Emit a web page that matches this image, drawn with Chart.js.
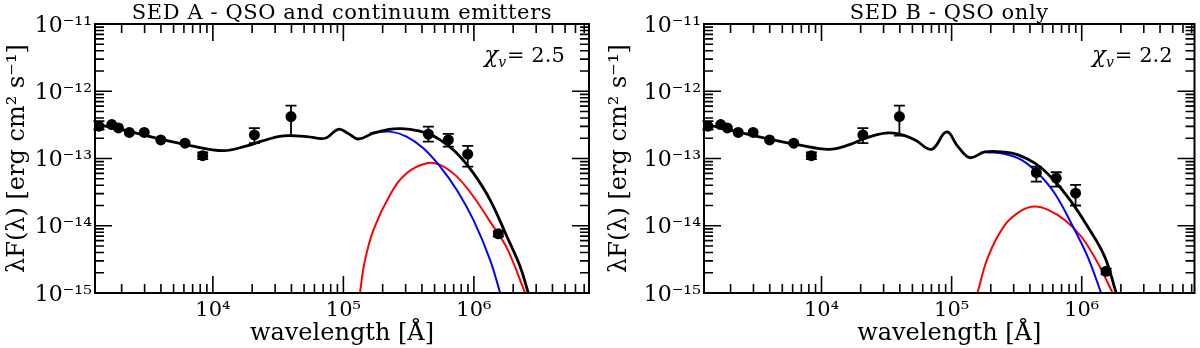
<!DOCTYPE html>
<html>
<head>
<meta charset="utf-8">
<script src="https://cdn.jsdelivr.net/npm/chart.js@4.4.0/dist/chart.umd.min.js"></script>
<style>
    html, body { margin: 0; padding: 0; background: #fff; }
    #wrap { display: flex; width: 1200px; height: 348px; }
    canvas { display: block; }
</style>
</head>
<body>
<div id="wrap">
    <canvas id="sedA" width="600" height="348"></canvas>
    <canvas id="sedB" width="600" height="348"></canvas>
</div>
<script>
// Photometry, wavelength in Angstrom, lambda F(lambda) in erg cm^-2 s^-1
const photLam = [1340, 1680, 1890, 2290, 2980, 3990, 6120, 8360, 2.08e4, 3.97e4];
const photF   = [3.02e-13, 3.19e-13, 2.85e-13, 2.44e-13, 2.44e-13, 1.89e-13, 1.69e-13, 1.10e-13, 2.24e-13, 4.20e-13];
const photLo  = [2.70e-13, null, null, null, null, null, null, 0.98e-13, 1.69e-13, 2.19e-13];
const photHi  = [3.60e-13, null, null, null, null, null, null, 1.23e-13, 2.82e-13, 6.11e-13];

// far-IR points differ between the two decompositions
const firLam = [4.48e5, 6.37e5, 8.97e5, 1.54e6];
const firFA  = [2.30e-13, 1.89e-13, 1.16e-13, 7.59e-15];
const firLoA = [1.78e-13, 1.50e-13, 7.59e-14, 6.9e-15];
const firHiA = [2.98e-13, 2.33e-13, 1.54e-13, 8.3e-15];
const firFB  = [6.18e-14, 5.09e-14, 3.05e-14, 2.10e-15];
const firLoB = [4.54e-14, 3.83e-14, 2.00e-14, 1.9e-15];
const firHiB = [7.59e-14, 6.25e-14, 4.06e-14, 2.3e-15];

// SED A model curves
const lamTotA = [1250, 2060, 3720, 6680, 1.20e4, 1.82e4, 2.44e4, 3.47e4, 5.24e4, 7.24e4, 9.14e4, 1.09e5, 1.30e5, 1.70e5, 2.42e5, 3.24e5, 4.36e5, 5.51e5, 7.40e5, 9.91e5, 1.33e6, 1.79e6, 2.26e6, 2.61e6];
const fTotA   = [3.27e-13, 2.66e-13, 2.00e-13, 1.56e-13, 1.31e-13, 1.54e-13, 1.85e-13, 2.17e-13, 2.12e-13, 2.00e-13, 2.72e-13, 2.36e-13, 1.95e-13, 2.38e-13, 2.75e-13, 2.72e-13, 2.38e-13, 1.89e-13, 1.20e-13, 6.05e-14, 2.43e-14, 6.92e-15, 2.48e-15, 1.0e-15];
const lamQsoA = [1.60e5, 2.28e5, 3.05e5, 4.10e5, 5.51e5, 7.40e5, 9.91e5, 1.33e6, 1.59e6];
const fQsoA   = [2.38e-13, 2.51e-13, 2.12e-13, 1.42e-13, 7.59e-14, 3.41e-14, 1.22e-14, 3.11e-15, 1.0e-15];
const lamDustA = [1.34e5, 1.45e5, 1.70e5, 2.28e5, 3.05e5, 4.36e5, 5.51e5, 7.40e5, 9.91e5, 1.33e6, 1.79e6, 2.47e6];
const fDustA   = [1.0e-15, 2.8e-15, 8.69e-15, 2.88e-14, 6.05e-14, 8.51e-14, 8.03e-14, 5.38e-14, 2.72e-14, 1.15e-14, 4.65e-15, 1.0e-15];

// SED B model curves
const lamTotB = [1250, 2060, 3720, 6680, 1.14e4, 1.62e4, 2.17e4, 3.08e4, 3.90e4, 5.24e4, 7.02e4, 9.14e4, 1.12e5, 1.38e5, 1.80e5, 2.57e5, 3.24e5, 4.36e5, 5.83e5, 8.30e5, 1.11e6, 1.50e6, 1.84e6];
const fTotB   = [3.27e-13, 2.60e-13, 2.00e-13, 1.59e-13, 1.37e-13, 1.59e-13, 2.00e-13, 2.38e-13, 2.32e-13, 1.89e-13, 1.37e-13, 2.48e-13, 1.50e-13, 1.03e-13, 1.25e-13, 1.24e-13, 1.13e-13, 8.51e-14, 5.27e-14, 2.29e-14, 9.73e-15, 3.48e-15, 1.0e-15];
const lamQsoB = [1.85e5, 2.57e5, 3.44e5, 4.61e5, 6.19e5, 8.30e5, 1.11e6, 1.41e6];
const fQsoB   = [1.24e-13, 1.17e-13, 9.53e-14, 6.04e-14, 3.05e-14, 1.09e-14, 3.48e-15, 1.0e-15];
const lamDustB = [1.58e5, 1.91e5, 2.57e5, 3.44e5, 4.36e5, 5.51e5, 7.40e5, 9.91e5, 1.33e6, 1.73e6];
const fDustB   = [1.0e-15, 3.48e-15, 1.03e-14, 1.68e-14, 1.93e-14, 1.72e-14, 1.22e-14, 6.92e-15, 2.78e-15, 1.0e-15];

// axes
const labelDecadesX = [4, 5, 6];
const tickDecadesX = [3, 4, 5, 6];
const decadesY = [-15, -14, -13, -12, -11];
const minorSteps = [2, 3, 4, 5, 6, 7, 8, 9];

const serif = "'DejaVu Serif', serif";
const SUP = { '-': '\u207B', '0': '\u2070', '1': '\u00B9', '2': '\u00B2', '3': '\u00B3', '4': '\u2074', '5': '\u2075', '6': '\u2076', '7': '\u2077', '8': '\u2078', '9': '\u2079' };

function decadeLabel(v) {
    const e = Math.round(Math.log10(v));
    return '10' + String(e).split('').map(c => SUP[c]).join('');
}

function pairs(xs, ys) {
    return xs.map((x, i) => ({ x: x, y: ys[i] }));
}

// frame, inward ticks on all four sides, error bars, titles and chi label
const sedDecor = {
    id: 'sedDecor',
    afterDatasetsDraw(chart, args, opts) {
        const { ctx, chartArea: a, scales: { x, y } } = chart;
        ctx.save();

        // error bars
        ctx.strokeStyle = '#000';
        ctx.lineWidth = 1.8;
        ctx.beginPath();
        opts.errLam.forEach((lam, i) => {
            const lo = opts.errLo[i], hi = opts.errHi[i];
            if (lo == null || hi == null) return;
            const px = x.getPixelForValue(lam);
            const p1 = y.getPixelForValue(lo), p2 = y.getPixelForValue(hi);
            ctx.moveTo(px, p1); ctx.lineTo(px, p2);
            ctx.moveTo(px - 5.5, p1); ctx.lineTo(px + 5.5, p1);
            ctx.moveTo(px - 5.5, p2); ctx.lineTo(px + 5.5, p2);
        });
        ctx.stroke();

        // ticks
        ctx.lineWidth = 1.6;
        ctx.beginPath();
        const tickX = (v, len) => {
            if (v <= x.min || v >= x.max) return;
            const px = x.getPixelForValue(v);
            ctx.moveTo(px, a.bottom); ctx.lineTo(px, a.bottom - len);
            ctx.moveTo(px, a.top); ctx.lineTo(px, a.top + len);
        };
        const tickY = (v, len) => {
            if (v <= y.min || v >= y.max) return;
            const py = y.getPixelForValue(v);
            ctx.moveTo(a.left, py); ctx.lineTo(a.left + len, py);
            ctx.moveTo(a.right, py); ctx.lineTo(a.right - len, py);
        };
        tickDecadesX.forEach(e => {
            const v = Number('1e' + e);
            tickX(v, 17);
            minorSteps.forEach(m => tickX(m * v, 9));
        });
        decadesY.forEach(e => {
            const v = Number('1e' + e);
            tickY(v, 17);
            minorSteps.forEach(m => tickY(m * v, 9));
        });
        ctx.stroke();

        // frame
        ctx.lineWidth = 2;
        ctx.strokeRect(a.left, a.top, a.right - a.left, a.bottom - a.top);

        ctx.fillStyle = '#000';
        ctx.textBaseline = 'alphabetic';
        ctx.textAlign = 'center';
        const midX = (a.left + a.right) / 2;
        const midY = (a.top + a.bottom) / 2;

        // panel title
        ctx.font = '21px ' + serif;
        ctx.letterSpacing = '0.6px';
        ctx.fillText(opts.title, midX, 19);
        ctx.letterSpacing = '0px';

        // axis titles
        ctx.font = '24px ' + serif;
        ctx.fillText('wavelength [Å]', midX, 340);
        ctx.save();
        ctx.translate(opts.yTitleX, midY);
        ctx.rotate(-Math.PI / 2);
        ctx.fillText('λF(λ) [erg cm² s⁻¹]', 0, 0);
        ctx.restore();

        // reduced chi-square
        let cx = x.getPixelForValue(opts.chiLam);
        const cy = y.getPixelForValue(opts.chiF);
        ctx.textAlign = 'left';
        ctx.font = 'italic 23px ' + serif;
        ctx.fillText('\u03C7', cx, cy);
        cx += ctx.measureText('\u03C7').width;
        ctx.font = 'italic 14px ' + serif;
        ctx.fillText('v', cx, cy + 5);
        cx += ctx.measureText('v').width + 1;
        ctx.font = '21px ' + serif;
        ctx.fillText('= ' + opts.chi, cx, cy);

        ctx.restore();
    }
};

function makeSed(id, cfg) {
    const curve = (label, xs, ys, color, width, order) => ({
        label: label,
        data: pairs(xs, ys),
        borderColor: color,
        borderWidth: width,
        pointRadius: 0,
        tension: 0.4,
        order: order
    });
    return new Chart(document.getElementById(id), {
        type: 'line',
        data: {
            datasets: [
                {
                    label: 'photometry',
                    data: pairs(cfg.ptLam, cfg.ptF),
                    showLine: false,
                    pointRadius: 5.5,
                    pointBackgroundColor: '#000',
                    pointBorderWidth: 0,
                    order: 0
                },
                curve('total', cfg.totLam, cfg.totF, '#000', 2.8, 1),
                curve('QSO', cfg.qsoLam, cfg.qsoF, '#0000ff', 2, 2),
                curve('continuum', cfg.dustLam, cfg.dustF, '#ff0000', 2, 3)
            ]
        },
        options: {
            responsive: false,
            animation: false,
            events: [],
            layout: { padding: { top: 24, right: cfg.padRight, left: 0, bottom: 0 } },
            plugins: {
                legend: { display: false },
                tooltip: { enabled: false },
                sedDecor: cfg.decor
            },
            scales: {
                x: {
                    type: 'logarithmic',
                    min: cfg.xMin,
                    max: cfg.xMax,
                    afterFit: s => { s.height = 55; },
                    afterBuildTicks: s => { s.ticks = labelDecadesX.map(e => ({ value: Number('1e' + e) })); },
                    grid: { display: false, drawTicks: false },
                    border: { display: false },
                    ticks: {
                        callback: v => decadeLabel(v),
                        color: '#000',
                        font: { family: serif, size: 21 },
                        padding: 5,
                        autoSkip: false,
                        maxRotation: 0
                    }
                },
                y: {
                    type: 'logarithmic',
                    min: 1e-15,
                    max: 1e-11,
                    afterFit: s => { s.width = cfg.yWidth; },
                    afterBuildTicks: s => { s.ticks = decadesY.map(e => ({ value: Number('1e' + e) })); },
                    grid: { display: false, drawTicks: false },
                    border: { display: false },
                    ticks: {
                        callback: v => decadeLabel(v),
                        color: '#000',
                        font: { family: serif, size: 22 },
                        padding: 3,
                        labelOffset: 2,
                        autoSkip: false
                    }
                }
            }
        },
        plugins: [sedDecor]
    });
}

window.addEventListener('load', function () {
    makeSed('sedA', {
        xMin: 1250, xMax: 7.62e6, yWidth: 95, padRight: 11,
        ptLam: photLam.concat(firLam), ptF: photF.concat(firFA),
        totLam: lamTotA, totF: fTotA,
        qsoLam: lamQsoA, qsoF: fQsoA,
        dustLam: lamDustA, dustF: fDustA,
        decor: {
            title: 'SED A - QSO and continuum emitters',
            yTitleX: 24,
            chi: '2.5', chiLam: 1.2e6, chiF: 2.7e-12,
            errLam: photLam.concat(firLam),
            errLo: photLo.concat(firLoA),
            errHi: photHi.concat(firHiA)
        }
    });
    makeSed('sedB', {
        xMin: 1250, xMax: 7.36e6, yWidth: 104, padRight: 4,
        ptLam: photLam.concat(firLam), ptF: photF.concat(firFB),
        totLam: lamTotB, totF: fTotB,
        qsoLam: lamQsoB, qsoF: fQsoB,
        dustLam: lamDustB, dustF: fDustB,
        decor: {
            title: 'SED B - QSO only',
            yTitleX: 26,
            chi: '2.2', chiLam: 1.2e6, chiF: 2.7e-12,
            errLam: photLam.concat(firLam),
            errLo: photLo.concat(firLoB),
            errHi: photHi.concat(firHiB)
        }
    });
});
</script>
</body>
</html>
